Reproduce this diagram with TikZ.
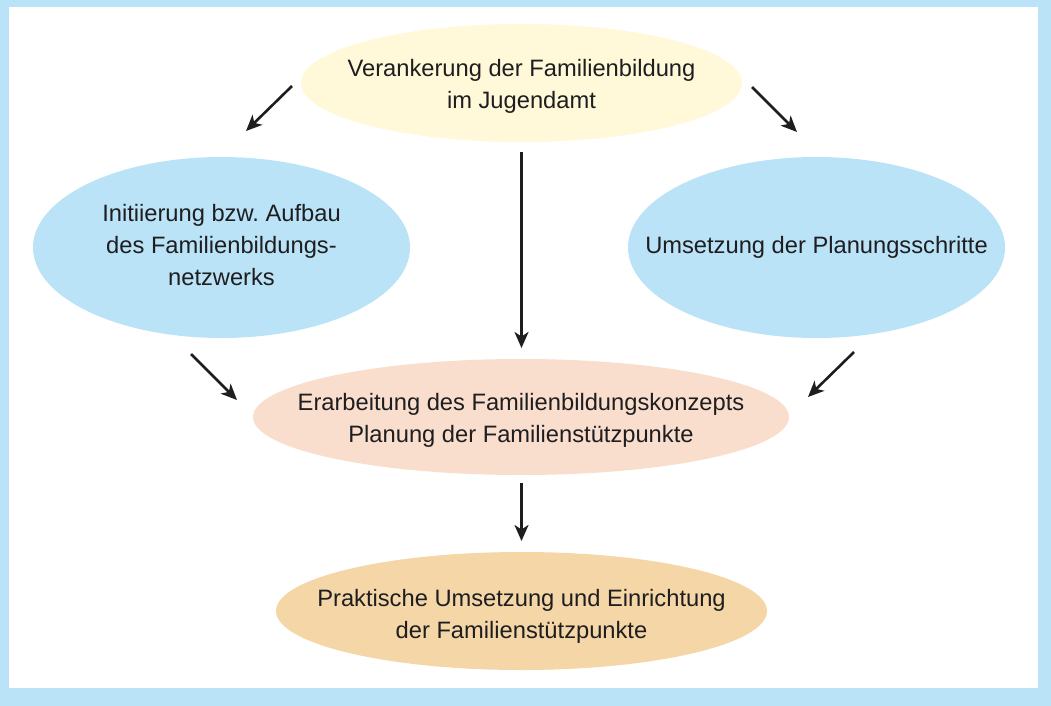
\documentclass[tikz,border=0pt]{standalone}
\usepackage{fontspec}
\setmainfont{Liberation Sans}
\usetikzlibrary{shapes.geometric,arrows.meta}
\definecolor{bordblue}{HTML}{BBE3F7}
\definecolor{ellblue}{HTML}{BBE3F7}
\definecolor{ellyellow}{HTML}{FFF8D9}
\definecolor{ellsalmon}{HTML}{F9DECD}
\definecolor{ellorange}{HTML}{F4D6A7}
\definecolor{ink}{HTML}{1E1E20}
\frenchspacing
\tikzset{
  blob/.style={ellipse, draw=none, inner sep=0pt},
  txt/.style={align=center, inner sep=0pt, text=ink, font=\fontsize{23.7pt}{32pt}\selectfont},
  arr/.style={draw=ink, line width=2.6pt, -{Stealth[length=16pt, width=14pt, inset=4.5pt]}}
}
\begin{document}
\begin{tikzpicture}[x=1pt, y=-1pt]
\useasboundingbox (0,0) rectangle (1051,706);
\fill[bordblue] (0,0) rectangle (1051,706);
\fill[white] (9,7) rectangle (1038,688);

\node[blob, fill=ellyellow, minimum width=441pt, minimum height=118pt] (top) at (521.5,83) {};
\node[blob, fill=ellblue, minimum width=377pt, minimum height=181pt] (left) at (221.5,247.5) {};
\node[blob, fill=ellblue, minimum width=377pt, minimum height=181pt] (right) at (816.5,247.5) {};
\node[blob, fill=ellsalmon, minimum width=536pt, minimum height=116pt] (mid) at (521,417) {};
\node[blob, fill=ellorange, minimum width=491pt, minimum height=118pt] (bot) at (521.5,611) {};

\node[txt] (toptext) at (521.5,86) {Verankerung der Familienbildung\\im Jugendamt};
\node[txt] (lefttext) at (221.5,245.5) {Initiierung bzw.\ Aufbau\\des Familienbildungs-\\netzwerks};
\node[txt, anchor=base] (righttext) at (816.5,253) {Umsetzung der Planungsschritte};
\node[txt] (midtext) at (521,420) {Erarbeitung des Familienbildungskonzepts\\Planung der Familienstützpunkte};
\node[txt] (bottext) at (521.5,616.5) {Praktische Umsetzung und Einrichtung\\der Familienstützpunkte};

\coordinate (a1s) at (292,86);  \coordinate (a1e) at (246,131);
\coordinate (a2s) at (752,87);  \coordinate (a2e) at (797,132);
\coordinate (a3s) at (521.5,152); \coordinate (a3e) at (521.5,348);
\coordinate (a4s) at (191,354); \coordinate (a4e) at (237,400);
\coordinate (a5s) at (854,352); \coordinate (a5e) at (808,397);
\coordinate (a6s) at (521.5,483); \coordinate (a6e) at (521.5,541);

\draw[arr] (a1s) -- (a1e);
\draw[arr] (a2s) -- (a2e);
\draw[arr] (a3s) -- (a3e);
\draw[arr] (a4s) -- (a4e);
\draw[arr] (a5s) -- (a5e);
\draw[arr] (a6s) -- (a6e);
\end{tikzpicture}
\end{document}
